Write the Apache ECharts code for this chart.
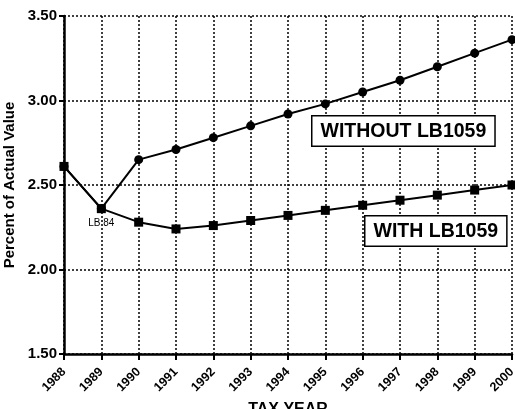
<!DOCTYPE html>
<html><head><meta charset="utf-8">
<script src="https://cdn.jsdelivr.net/npm/echarts@6/dist/echarts.min.js"></script>
<style>html,body{margin:0;padding:0;background:#fff}#c{width:515px;height:409px}</style>
</head><body><div id="c"></div>
<script>
var years = ['1988','1989','1990','1991','1992','1993','1994','1995','1996','1997','1998','1999','2000'];
var withoutLB = [2.61, 2.36, 2.65, 2.71, 2.78, 2.85, 2.92, 2.98, 3.05, 3.12, 3.20, 3.28, 3.36];
var withLB = [2.61, 2.36, 2.28, 2.24, 2.26, 2.29, 2.32, 2.35, 2.38, 2.41, 2.44, 2.47, 2.50];
var yTicks = [1.5, 2.0, 2.5, 3.0, 3.5];

var F = 'Liberation Sans, Arial, sans-serif';
var chart = echarts.init(document.getElementById('c'));
var withData = withLB.map(function (v, i) {
  if (i === 1) return { value: v, label: { show: true, position: 'bottom', distance: 5, formatter: 'LB 84', fontSize: 10, fontFamily: F, color: '#000' } };
  return v;
});
chart.setOption({
  animation: false,
  backgroundColor: '#fff',
  grid: { left: 64, right: 3, top: 16, bottom: 55, containLabel: false, outerBoundsMode: 'none' },
  xAxis: {
    type: 'category', data: years, boundaryGap: false,
    name: 'TAX YEAR', nameLocation: 'middle', nameGap: 44,
    nameTextStyle: { fontFamily: F, fontWeight: 'bold', fontSize: 16, color: '#000' },
    axisLine: { lineStyle: { color: '#000', width: 2.5 } },
    axisTick: { show: true, length: 6, lineStyle: { color: '#000', width: 2 } },
    axisLabel: { rotate: 45, fontFamily: F, fontWeight: 'bold', fontSize: 12.5, color: '#000', margin: 16 },
    splitLine: { show: true, lineStyle: { color: '#000', type: [2, 2], width: 1.5 } }
  },
  yAxis: {
    type: 'value', min: 1.5, max: 3.5, interval: 0.5,
    name: 'Percent of Actual Value', nameLocation: 'middle', nameGap: 42,
    nameTextStyle: { fontFamily: F, fontWeight: 'bold', fontSize: 15, color: '#000' },
    axisLine: { show: true, lineStyle: { color: '#000', width: 2.5 } },
    axisTick: { show: true, length: 5, lineStyle: { color: '#000', width: 2 } },
    axisLabel: { fontFamily: F, fontWeight: 'bold', fontSize: 15, color: '#000', margin: 7,
      formatter: function (v) { return v.toFixed(2); } },
    splitLine: { show: true, lineStyle: { color: '#000', type: [2, 2], width: 1.5 } }
  },
  series: [
    { name: 'WITHOUT LB1059', type: 'line', data: withoutLB, symbol: 'circle', symbolSize: 9,
      lineStyle: { color: '#000', width: 2 }, itemStyle: { color: '#000' }, z: 3 },
    { name: 'WITH LB1059', type: 'line', data: withData, symbol: 'rect', symbolSize: 9,
      lineStyle: { color: '#000', width: 2 }, itemStyle: { color: '#000' }, z: 4 }
  ],
  graphic: [
    { type: 'text', left: 311, top: 115, z: 10,
      style: { text: 'WITHOUT LB1059', fontFamily: F, fontWeight: 'bold', fontSize: 19.5, fill: '#000',
        backgroundColor: '#fff', borderColor: '#000', borderWidth: 1.5, padding: [5, 8, 4, 8] } },
    { type: 'text', left: 364, top: 215, z: 10,
      style: { text: 'WITH LB1059', fontFamily: F, fontWeight: 'bold', fontSize: 19.5, fill: '#000',
        backgroundColor: '#fff', borderColor: '#000', borderWidth: 1.5, padding: [5, 8, 4, 8] } }
  ]
});
</script></body></html>
